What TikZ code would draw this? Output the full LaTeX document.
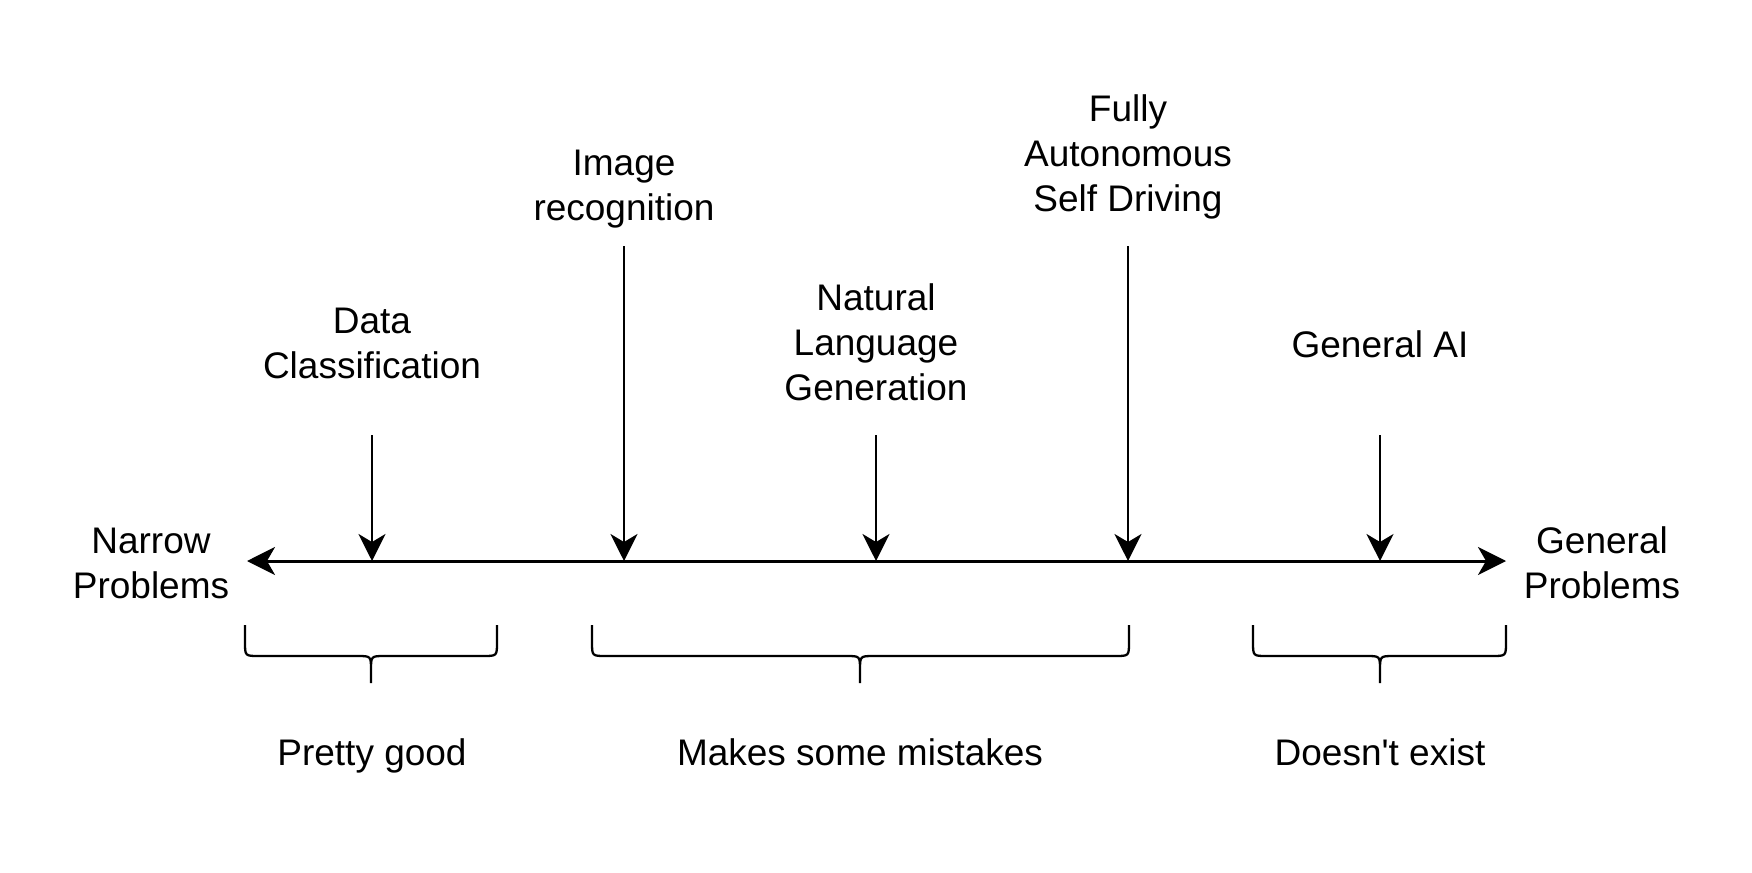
\documentclass[tikz,border=0pt]{standalone}
\usepackage{fontspec}
\setmainfont{Liberation Sans}
\usetikzlibrary{arrows.meta}
\tikzset{
  lbl/.style={align=center, inner sep=0pt, font=\fontsize{37}{45}\selectfont},
  axis/.style={line width=3pt, {Stealth[length=28pt,width=28pt,inset=8pt]}-{Stealth[length=28pt,width=28pt,inset=8pt]}},
  pointer/.style={line width=2.2pt, -{Stealth[length=27pt,width=27pt,inset=8pt]}},
  cbrace/.style={line width=2.3pt, line join=round}
}
\begin{document}
\begin{tikzpicture}[x=1pt,y=-1pt]
\useasboundingbox (0,0) rectangle (1752,872);
\fill[white] (0,0) rectangle (1752,872);
% axis points
\coordinate (L) at (247,561);
\coordinate (R) at (1506,561);
\coordinate (p1) at (372,561);
\coordinate (p2) at (624,561);
\coordinate (p3) at (876,561);
\coordinate (p4) at (1128,561);
\coordinate (p5) at (1380,561);
% pointer tops
\coordinate (t1) at (372,435);
\coordinate (t2) at (624,246);
\coordinate (t3) at (876,435);
\coordinate (t4) at (1128,246);
\coordinate (t5) at (1380,435);
% labels
\node[lbl] (narrow) at (151,563) {Narrow\\Problems};
\node[lbl] (general) at (1602,563) {General\\Problems};
\node[lbl] (dc) at (372,343) {Data\\Classification};
\node[lbl] (ir) at (624,189) {Image\\recognition};
\node[lbl] (nlg) at (876,342) {Natural\\Language\\Generation};
\node[lbl] (fa) at (1128,157) {Fully\\Autonomous\\Self Driving};
\node[lbl] (gai) at (1380,344) {General AI};
\node[lbl, anchor=base] (pg) at (372,765) {Pretty good};
\node[lbl, anchor=base] (mm) at (860,765) {Makes some mistakes};
\node[lbl, anchor=base] (de) at (1380,765) {Doesn\textquotesingle t exist};
% axis
\draw[axis] (L) -- (R);
% pointers
\draw[pointer] (t1) -- (p1);
\draw[pointer] (t2) -- (p2);
\draw[pointer] (t3) -- (p3);
\draw[pointer] (t4) -- (p4);
\draw[pointer] (t5) -- (p5);
% braces
\draw[cbrace] (245,625) -- (245,642) .. controls (245,656) .. (259,656) -- (357,656) .. controls (371,656) .. (371,670) -- (371,683)
  (371,670) .. controls (371,656) .. (385,656) -- (483,656) .. controls (497,656) .. (497,642) -- (497,625);
\draw[cbrace] (592,625) -- (592,642) .. controls (592,656) .. (606,656) -- (846,656) .. controls (860,656) .. (860,670) -- (860,683)
  (860,670) .. controls (860,656) .. (874,656) -- (1115,656) .. controls (1129,656) .. (1129,642) -- (1129,625);
\draw[cbrace] (1253,625) -- (1253,642) .. controls (1253,656) .. (1267,656) -- (1366,656) .. controls (1380,656) .. (1380,670) -- (1380,683)
  (1380,670) .. controls (1380,656) .. (1394,656) -- (1492,656) .. controls (1506,656) .. (1506,642) -- (1506,625);
\end{tikzpicture}
\end{document}
